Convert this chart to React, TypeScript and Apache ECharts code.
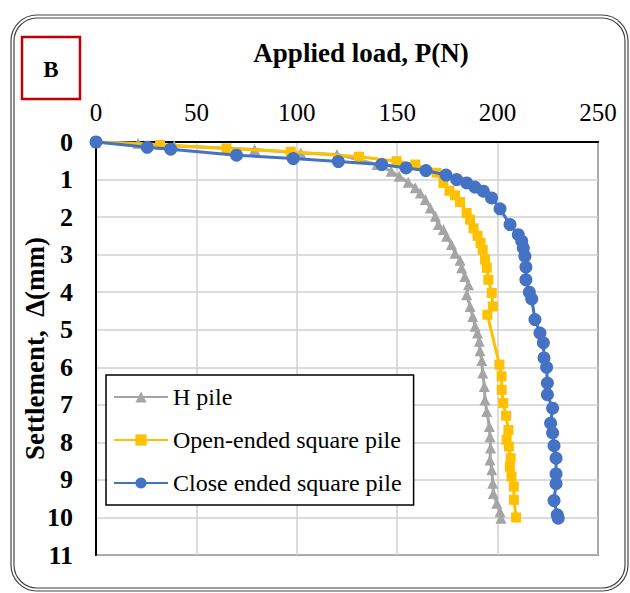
import React, { useEffect, useRef } from "react";
import * as echarts from "echarts";

// Tick labels
const xTicks = [0, 50, 100, 150, 200, 250];
const yTicks = [0, 1, 2, 3, 4, 5, 6, 7, 8, 9, 10, 11];

// H pile
const hLoad = [0, 21, 39, 79, 102, 120, 140, 147, 151, 155.5, 159, 161.5, 164, 166.5, 169, 170.5, 173, 174.6, 177, 178.8, 181.3, 182.1, 183.7, 185.5, 184.6, 186.3, 187.6, 188.8, 190, 190.9, 191.2, 192.1, 192.6, 193.4, 193.7, 194.6, 195.9, 196.2, 196.5, 196.2, 197.1, 197.6, 197.9, 199.6, 201.2, 201.7];
const hSettle = [0, 0.03, 0.1, 0.2, 0.29, 0.33, 0.6, 0.78, 0.91, 1.07, 1.22, 1.36, 1.53, 1.76, 1.98, 2.2, 2.33, 2.51, 2.73, 2.96, 3.15, 3.35, 3.58, 3.8, 4.07, 4.38, 4.65, 4.91, 5.09, 5.31, 5.56, 5.82, 6.15, 6.51, 6.87, 7.18, 7.58, 7.85, 8.15, 8.47, 8.73, 9.09, 9.36, 9.62, 9.85, 10.02];

// Open-ended square pile
const openLoad = [0, 31.9, 65, 97, 131, 149.7, 159, 169.6, 173, 176, 178.8, 181.3, 184.6, 186.3, 188, 190, 191.5, 192.6, 193.7, 194.6, 195.4, 197.1, 197.6, 194.9, 200.9, 202, 202, 202.8, 204.2, 205.4, 204.5, 205.6, 206.5, 206.1, 206.9, 208.1, 208.1, 209.2];
const openSettle = [0, 0.08, 0.17, 0.26, 0.39, 0.51, 0.6, 0.82, 1.09, 1.3, 1.42, 1.6, 1.89, 2.07, 2.3, 2.5, 2.69, 2.87, 3.13, 3.35, 3.67, 4.02, 4.38, 4.6, 5.93, 6.24, 6.6, 6.95, 7.29, 7.67, 7.93, 8.11, 8.42, 8.65, 8.91, 9.18, 9.53, 10.0];

// Close ended square pile
const closeLoad = [0, 25.5, 37.2, 70, 98.2, 120.7, 142.3, 154.4, 164.3, 174.3, 179.6, 184.6, 188.7, 192.9, 197, 201.2, 206.2, 210.3, 212, 212.8, 213.6, 214.1, 214.1, 215.8, 217, 218.6, 221.1, 222.8, 223.1, 224.4, 224.8, 224.8, 227.4, 226.4, 227.4, 228.1, 229.1, 229.1, 229.1, 228.1, 229.7, 230.2];
const closeSettle = [0, 0.14, 0.19, 0.35, 0.44, 0.52, 0.6, 0.69, 0.76, 0.88, 1.0, 1.09, 1.2, 1.31, 1.49, 1.78, 2.2, 2.47, 2.64, 2.82, 3.04, 3.33, 3.67, 4.0, 4.18, 4.73, 5.09, 5.35, 5.75, 6.0, 6.42, 6.73, 7.09, 7.49, 7.75, 8.09, 8.42, 8.84, 9.1, 9.55, 9.93, 10.02];

const seriesNames = ["H pile", "Open-ended square pile", "Close ended square pile"];

const FONT = "Liberation Serif, Times New Roman, serif";

const pairs = (xs: number[], ys: number[]) => xs.map((x, i) => [x, ys[i]]);

export default function App() {
  const ref = useRef<HTMLDivElement>(null);
  useEffect(() => {
    if (!ref.current) return;
    const chart = echarts.init(ref.current, undefined, { renderer: "svg" });
    const xStep = xTicks[1] - xTicks[0];
    const yStep = yTicks[1] - yTicks[0];
    chart.setOption({
      animation: false,
      backgroundColor: "#fff",
      textStyle: { fontFamily: FONT },
      grid: {
        left: 96,
        top: 142,
        right: 32,
        bottom: 38,
        show: true,
        borderColor: "#000",
        borderWidth: 1.5,
        backgroundColor: "transparent",
      },
      xAxis: {
        type: "value",
        position: "top",
        min: xTicks[0],
        max: xTicks[xTicks.length - 1],
        interval: xStep,
        axisLine: { show: true, lineStyle: { color: "#000", width: 2 } },
        axisTick: { show: false },
        axisLabel: { color: "#000", fontSize: 25, fontFamily: FONT, margin: 17 },
        splitLine: { show: true, lineStyle: { color: "#d0d0d0", width: 1.5 } },
      },
      yAxis: {
        type: "value",
        inverse: true,
        min: yTicks[0],
        max: yTicks[yTicks.length - 1],
        interval: yStep,
        name: "Settlement,  Δ(mm)",
        nameLocation: "middle",
        nameRotate: 90,
        nameGap: 48,
        nameMoveOverlap: false,
        nameTextStyle: { color: "#000", fontSize: 27, fontWeight: "bold", fontFamily: FONT },
        axisLine: { show: true, lineStyle: { color: "#000", width: 2 } },
        axisTick: { show: false },
        axisLabel: { color: "#000", fontSize: 26, fontWeight: "bold", fontFamily: FONT, margin: 23 },
        splitLine: { show: true, lineStyle: { color: "#d0d0d0", width: 1.5 } },
      },
      legend: {
        left: 106,
        top: 375,
        orient: "vertical",
        data: seriesNames,
        itemWidth: 54,
        itemHeight: 14,
        itemGap: 19,
        padding: [10, 12, 10, 7],
        backgroundColor: "#fff",
        borderColor: "#000",
        borderWidth: 1.5,
        borderRadius: 0,
        textStyle: { color: "#000", fontSize: 24, fontFamily: FONT, lineHeight: 24 },
      },
      graphic: [
        {
          type: "rect",
          shape: { x: 11, y: 15, width: 617, height: 576, r: 26 },
          style: { fill: "none", stroke: "#444", lineWidth: 1.2 },
          silent: true,
        },
        {
          type: "rect",
          shape: { x: 14, y: 18, width: 611, height: 570, r: 23 },
          style: { fill: "none", stroke: "#444", lineWidth: 1.2 },
          silent: true,
        },
        {
          type: "rect",
          shape: { x: 22, y: 37, width: 58, height: 62 },
          style: { fill: "none", stroke: "#c00000", lineWidth: 2.5 },
          silent: true,
        },
        {
          type: "text",
          x: 51,
          y: 69,
          style: {
            text: "B",
            fill: "#000",
            font: `bold 23px ${FONT}`,
            textAlign: "center",
            textVerticalAlign: "middle",
          },
        },
        {
          type: "text",
          x: 361,
          y: 53,
          style: {
            text: "Applied load, P(N)",
            fill: "#000",
            font: `bold 27px ${FONT}`,
            textAlign: "center",
            textVerticalAlign: "middle",
          },
        },
      ],
      series: [
        {
          name: seriesNames[0],
          type: "line",
          data: pairs(hLoad, hSettle),
          symbol: "triangle",
          symbolSize: 11,
          lineStyle: { color: "#A5A5A5", width: 3 },
          itemStyle: { color: "#A5A5A5" },
          z: 2,
        },
        {
          name: seriesNames[1],
          type: "line",
          data: pairs(openLoad, openSettle),
          symbol: "rect",
          symbolSize: 10,
          lineStyle: { color: "#FFC000", width: 3 },
          itemStyle: { color: "#FFC000" },
          z: 3,
        },
        {
          name: seriesNames[2],
          type: "line",
          data: pairs(closeLoad, closeSettle),
          symbol: "circle",
          symbolSize: 13,
          lineStyle: { color: "#4472C4", width: 3 },
          itemStyle: { color: "#4472C4" },
          z: 4,
        },
      ],
    });
    return () => chart.dispose();
  }, []);
  return (
    <div
      ref={ref}
      style={{ position: "absolute", left: 0, top: 0, width: 630, height: 593 }}
    />
  );
}
